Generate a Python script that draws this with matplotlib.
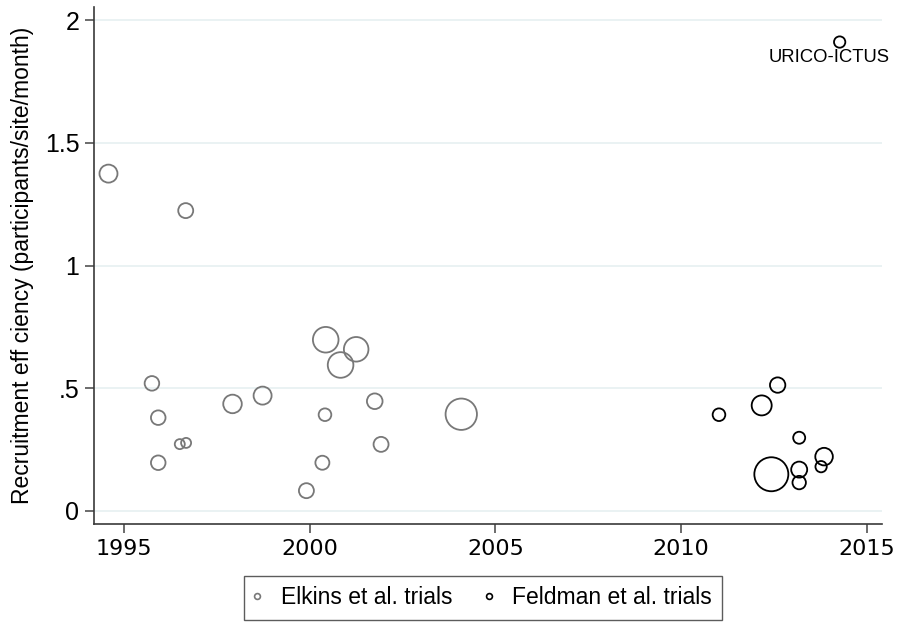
import matplotlib.pyplot as plt
from matplotlib.lines import Line2D

plt.rcParams['font.family'] = ['Liberation Sans', 'DejaVu Sans']

# Elkins et al. trials: year, efficiency, relative weight
elkins_year = [1994.58, 1996.66, 1995.75, 1995.92, 1995.92, 1996.50, 1996.67,
               1997.92, 1998.73, 1999.91, 2000.34, 2000.41, 2001.75, 2001.92,
               2004.08, 2000.43, 2000.83, 2001.25]
elkins_eff = [1.375, 1.224, 0.519, 0.379, 0.195, 0.271, 0.276,
              0.435, 0.469, 0.081, 0.195, 0.391, 0.446, 0.270,
              0.393, 0.697, 0.594, 0.658]
elkins_weight = [81, 56, 53, 53, 53, 25, 25,
                 86, 81, 56, 49, 40, 61, 56,
                 246, 164, 164, 151]

# Feldman et al. trials
feldman_year = [2011.02, 2012.17, 2012.60, 2013.18, 2013.85, 2013.77,
                2013.18, 2013.18, 2012.43, 2014.27]
feldman_eff = [0.391, 0.429, 0.512, 0.297, 0.220, 0.179,
               0.167, 0.114, 0.148, 1.912]
feldman_weight = [40, 100, 59, 36, 77, 32, 64, 45, 289, 32]

label_text = 'URICO-ICTUS'
yticks = [0, 0.5, 1, 1.5, 2]
ytick_labels = ['0', '.5', '1', '1.5', '2']
xticks = [1995, 2000, 2005, 2010, 2015]

fig = plt.figure(figsize=(9.05, 6.24), dpi=100)
ax = fig.add_axes([94 / 905, 100 / 624, 788 / 905, 517 / 624])

# weight -> marker area (px radius^2 to pt^2)
k = (2 * 0.72) ** 2
ax.scatter(elkins_year, elkins_eff, s=[w * k for w in elkins_weight],
           facecolors='none', edgecolors='#787878', linewidths=1.3, zorder=3)
ax.scatter(feldman_year, feldman_eff, s=[w * k for w in feldman_weight],
           facecolors='none', edgecolors='black', linewidths=1.3, zorder=3)

ax.text(feldman_year[-1] - 0.28, feldman_eff[-1] - 0.063, label_text,
        ha='center', va='center', fontsize=13.3)

ax.set_xlim(1994.19, 2015.41)
ax.set_ylim(-0.055, 2.055)
ax.set_yticks(yticks)
ax.set_yticklabels(ytick_labels, fontsize=18)
ax.set_xticks(xticks)
ax.set_xticklabels([str(x) for x in xticks], fontsize=16, family='DejaVu Sans')
ax.tick_params(axis='both', length=6.5, width=1.1, color='#444444', pad=4)

ax.grid(axis='y', color='#eaf2f3', linewidth=1.4, zorder=0)
ax.set_axisbelow(True)
for side in ['top', 'right']:
    ax.spines[side].set_visible(False)
for side in ['left', 'bottom']:
    ax.spines[side].set_color('#3a3a3a')
    ax.spines[side].set_linewidth(1.2)

ax.set_ylabel('Recruitment eff ciency (participants/site/month)', fontsize=16.5, labelpad=8)

handles = [
    Line2D([], [], marker='o', linestyle='none', markersize=4.2,
           markerfacecolor='none', markeredgecolor='#787878', markeredgewidth=1.2),
    Line2D([], [], marker='o', linestyle='none', markersize=4.2,
           markerfacecolor='none', markeredgecolor='black', markeredgewidth=1.2),
]
leg = fig.legend(handles, ['Elkins et al. trials', 'Feldman et al. trials'],
                 loc='center', bbox_to_anchor=(483 / 905, 1 - 598 / 624), ncol=2,
                 fontsize=16.5, frameon=True, fancybox=False, edgecolor='#333333',
                 handlelength=0.3, handletextpad=0.86, columnspacing=1.47,
                 borderpad=0.45)
leg.get_frame().set_linewidth(1.0)

fig.savefig('out.png', dpi=100)
